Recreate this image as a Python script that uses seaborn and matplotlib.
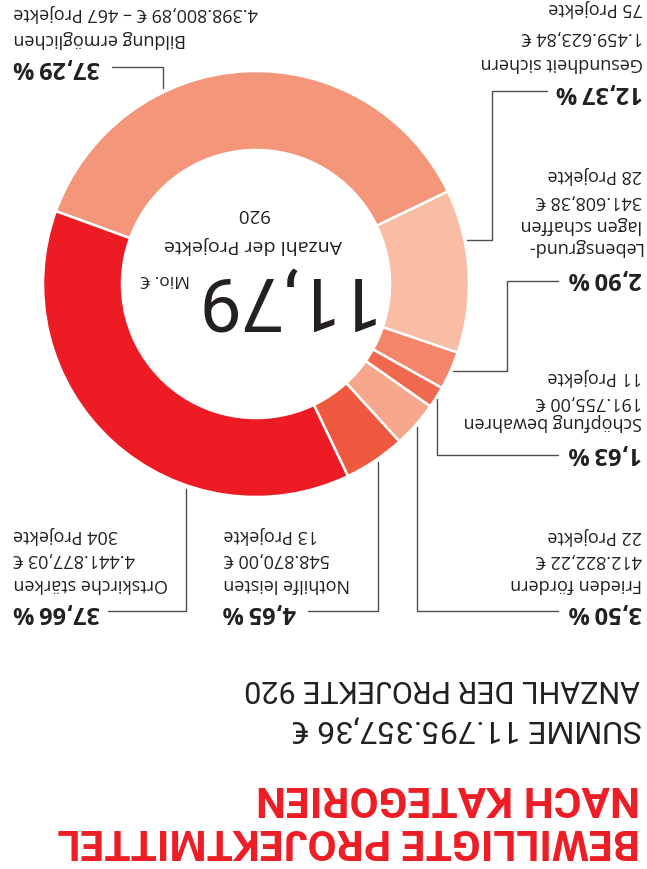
"""Donut chart: approved project funds by category (picture is shown upside down)."""
import math

import matplotlib
matplotlib.use("Agg")
import matplotlib.pyplot as plt
import seaborn as sns
from matplotlib import font_manager as fm

# -------------------- data --------------------
categories = [
    "Bildung ermöglichen",
    "Gesundheit sichern",
    "Lebensgrund-\nlagen schaffen",
    "Schöpfung bewahren",
    "Frieden fördern",
    "Nothilfe leisten",
    "Ortskirche stärken",
]
amounts = [4398800.89, 1459623.84, 341608.38, 191755.00, 412822.22, 548870.00, 4441877.03]
projects = [467, 75, 28, 11, 22, 13, 304]
colors = ["#F4967A", "#F9BDA5", "#F4846A", "#F0694F", "#F7A78C", "#EF5940", "#ED1C24"]

title_lines = ["BEWILLIGTE PROJEKTMITTEL", "NACH KATEGORIEN"]

# -------------------- layout (pixel coords, y downwards) --------------------
W, H = 647, 870
CENTER = (256, 285)
R_OUT, RING = 213, 79
RED = "#ED1C24"
INK = "#231F20"
LINE = "#4D4D4D"

# per category: text x, alignment, y of percentage, y of each detail line, leader path
label_layout = [
    (13, "left", 67.5, [38.5, 13], [(112, 68), (163, 68), (163, 89)]),
    (643, "right", 92, [62.5, 37.5, 8], [(547, 92), (492, 92), (492, 241), (467, 241)]),
    (642, "right", 278.5, [247.5, 224.5, 201, 175], [(558, 282), (507, 282), (507, 372), (453, 372)]),
    (642, "right", 453.5, [422.5, 402, 377.5], [(558, 456), (437, 456), (437, 400)]),
    (642, "right", 612.5, [584.5, 560, 536], [(558, 612), (417, 612), (417, 428)]),
    (223, "left", 612.5, [584.5, 559, 535.5], [(308, 612), (378, 612), (378, 463)]),
    (13, "left", 612.5, [584.5, 559, 535.5], [(108, 612), (186, 612), (186, 490)]),
]


def pick_font(*names):
    for name in names:
        try:
            fm.findfont(fm.FontProperties(family=name), fallback_to_default=False)
            return name
        except ValueError:
            continue
    return "DejaVu Sans"


def euro(v: float) -> str:
    s = f"{v:,.2f}".replace(",", "X").replace(".", ",").replace("X", ".")
    return f"{s} €"


def pct(v: float) -> str:
    return f"{v:.2f}".replace(".", ",") + "\u2009%"


sns.set_theme(style="white")
NARROW = pick_font("Liberation Sans Narrow", "Roboto", "DejaVu Sans")
BODY = pick_font("Open Sans", "Noto Sans", "DejaVu Sans")
plt.rcParams["font.family"] = [BODY, "DejaVu Sans"]

fig = plt.figure(figsize=(W / 100, H / 100), dpi=100)
ax = fig.add_axes([0, 0, 1, 1])

# the whole chart is rotated by 180 degrees: in y-down coords, going
# counter-clockwise from 200 deg draws the wedges clockwise on screen from 160 deg
ax.pie(
    amounts,
    colors=sns.color_palette(colors),
    center=CENTER,
    radius=R_OUT,
    startangle=200,
    counterclock=True,
    wedgeprops=dict(width=RING, edgecolor="white", linewidth=1.8),
)
ax.set_xlim(0, W)
ax.set_ylim(H, 0)
ax.set_aspect("equal")
ax.axis("off")

total = sum(amounts)
n_total = sum(projects)


def txt(x, y, s, **kw):
    kw.setdefault("va", "center")
    ax.text(x, y, s, rotation=180, **kw)


# centre of the donut
txt(370, 297, f"{math.floor(total / 1e4) / 100:.2f}".replace(".", ","),
    ha="right", fontsize=54, family=NARROW, color=INK)
txt(190, 279, "Mio. €", ha="right", fontsize=12.5, color=INK)
txt(253, 245, "Anzahl der Projekte", ha="center", fontsize=14, color=INK)
txt(253, 214, str(n_total), ha="center", fontsize=13.5, color=INK)

# labels with leader lines
for i, (x, ha, py, ys, path) in enumerate(label_layout):
    share = amounts[i] / total * 100
    if i == 0:
        lines = [categories[i], f"{euro(amounts[i])} – {projects[i]} Projekte"]
    else:
        lines = categories[i].split("\n") + [euro(amounts[i]), f"{projects[i]} Projekte"]
    txt(x, py, pct(share), ha=ha, fontsize=17, fontweight="bold", color=INK)
    for s, y in zip(lines, ys):
        txt(x, y, s, ha=ha, fontsize=13, color=INK)
    xs, yv = zip(*path)
    ax.plot(xs, yv, color=LINE, lw=1.0, solid_joinstyle="miter")

# summary and title at the bottom (upside down)
txt(640, 689, f"ANZAHL DER PROJEKTE {n_total}", ha="right", fontsize=22,
    family=NARROW, color=INK)
txt(642, 729, f"SUMME {euro(total)}", ha="right", fontsize=23, family=NARROW, color=INK)
txt(640, 798, title_lines[1], ha="right", fontsize=30.5, fontweight="bold",
    family=NARROW, color=RED)
txt(640, 841, title_lines[0], ha="right", fontsize=30.5, fontweight="bold",
    family=NARROW, color=RED)

fig.savefig("out.png", dpi=100)
